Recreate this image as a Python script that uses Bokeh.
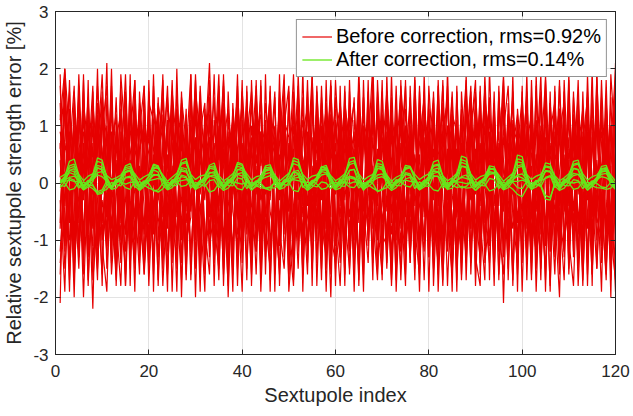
from bokeh.plotting import figure
from bokeh.models import Legend, LegendItem, FixedTicker, LinearAxis
from bokeh.embed import file_html
from bokeh.resources import INLINE

# ---------------- data ----------------
sextupole_index = list(range(1, 121))

x_ticks = [0, 20, 40, 60, 80, 100, 120]
y_ticks = [-3, -2, -1, 0, 1, 2, 3]
y_tick_labels = {-3: "-3", -2: "-2", -1: "-1", 0: "0", 1: "1", 2: "2", 3: "3"}

legend_before = "Before correction, rms=0.92%"
legend_after = "After correction, rms=0.14%"

# relative sextupole strength error [%] before correction (one list per seed)
red_seed_01 = [0.4, -1.1, 1.3, 0.2, -0.6, 1.8, -0.9, 0.7, -1.4, 0.1,
               1.0, -0.3, -1.7, 0.9, 0.5, -0.8, 1.5, -1.2, 0.3, 0.8,
               -0.5, 1.2, -1.0, -0.2, 1.6, 0.6, -1.3, 0.0, 0.9, -0.7,
               1.4, -1.5, 0.2, 0.7, -0.4, 1.1, -2.0, 0.5, 1.3, -0.9,
               -0.1, 0.8, -1.2, 1.7, -0.6, 0.3, 1.0, -0.8, -1.5, 0.6,
               1.2, -0.3, 0.4, -1.1, 1.9, -0.7, 0.1, 0.9, -1.6, 0.5,
               -0.2, 1.3, -0.9, 0.6, -1.4, 1.0, 0.3, -0.5, 1.5, -1.0,
               0.7, -1.8, 0.2, 1.1, -0.6, 0.8, -1.2, 1.6, -0.1, 0.4,
               -1.3, 0.9, 0.5, -0.7, 1.2, -1.5, 0.0, 1.4, -0.8, 0.6,
               -0.4, 1.7, -1.1, 0.3, 0.9, -2.1, 0.7, -0.2, 1.0, -0.9,
               1.3, -0.6, 0.2, -1.4, 1.1, 0.5, -0.3, 1.8, -1.0, 0.4,
               -0.7, 0.8, -1.6, 1.2, 0.1, -0.5, 1.5, -1.2, 0.6, 2.0]
red_seed_02 = [-1.6, 0.7, 0.2, -0.9, 1.4, -0.3, 1.1, -1.5, 0.6, 1.9,
               -0.4, -1.0, 0.8, 1.2, -1.8, 0.3, -0.6, 1.0, 0.5, -1.3,
               1.7, -0.2, -0.8, 0.9, -1.1, 1.3, 0.4, -1.7, 0.6, 1.1,
               -0.5, 0.2, 1.5, -1.2, 0.8, -0.1, -1.4, 1.2, 0.3, -0.7,
               1.6, -1.0, 0.5, -0.3, 1.1, -1.9, 0.9, 0.2, -0.6, 1.4,
               -1.2, 0.7, -0.4, 1.8, -0.9, 0.0, 1.3, -1.5, 0.6, -0.2,
               1.0, -1.3, 0.4, 0.9, -0.7, 1.5, -1.1, 0.3, -1.6, 1.2,
               0.1, -0.5, 1.7, -0.8, 0.6, -1.4, 1.1, 0.2, -1.0, 0.8,
               -0.3, 1.4, -1.7, 0.5, 1.0, -0.6, -1.2, 1.6, 0.3, -0.9,
               0.7, -0.1, 1.2, -1.5, 0.4, 1.9, -0.8, 0.0, -1.3, 1.1,
               -0.6, 0.9, -1.1, 1.5, 0.2, -1.8, 0.7, 1.3, -0.4, -1.0,
               1.2, -0.7, 0.5, -1.4, 1.6, 0.1, -0.9, 0.8, -1.2, 0.3]
red_seed_03 = [1.1, 2.0, -0.5, -1.3, 0.6, 0.9, -1.8, 0.3, 1.4, -0.7,
               0.2, 1.6, -1.0, -0.4, 1.2, -1.5, 0.8, 0.0, -0.9, 1.3,
               -1.4, 0.5, 1.0, -0.6, 0.3, -1.9, 1.5, 0.7, -1.2, 0.1,
               0.9, -0.8, -1.6, 1.1, 0.4, 1.8, -0.3, -1.1, 0.6, 1.4,
               -0.9, 0.2, 1.3, -1.4, 0.7, -0.5, -1.0, 1.6, 0.3, -1.7,
               0.8, 1.2, -0.6, 0.0, -1.3, 1.0, 0.5, -0.8, 1.7, -1.1,
               0.4, -1.6, 0.9, 1.4, -0.2, -1.2, 0.6, 2.1, -0.7, 0.3,
               -1.0, 1.1, -0.4, -1.5, 1.3, 0.2, -0.9, 0.7, 1.5, -1.3,
               0.6, -0.1, -1.8, 1.0, 0.8, -0.6, 1.2, -1.4, 0.4, -0.2,
               1.6, -1.1, 0.5, 0.9, -1.7, 1.3, -0.3, -0.8, 1.1, 0.0,
               -1.2, 1.8, -0.5, 0.6, -1.0, 1.4, 0.3, -1.6, 0.9, -0.4,
               1.0, -1.3, 0.7, 1.5, -0.8, -0.1, 1.2, -1.5, 0.2, 1.7]
red_seed_04 = [-0.3, -1.9, 1.2, 0.5, -1.0, 0.2, 1.5, -0.6, -1.3, 0.9,
               1.7, -0.8, 0.4, -1.4, 1.0, 0.6, -0.2, -1.6, 1.3, 0.1,
               -0.7, 1.4, 0.8, -1.2, -0.4, 1.1, -1.0, 0.5, 1.9, -1.5,
               0.3, 1.0, -0.9, 0.0, -1.7, 0.7, 1.3, -0.5, -1.1, 1.6,
               0.4, -1.3, 0.9, 1.2, -0.7, -1.5, 0.6, 0.2, 1.4, -0.9,
               -1.8, 0.5, 1.1, -0.4, 0.8, -1.0, 1.7, -0.3, -1.2, 0.9,
               1.3, -0.6, -1.5, 0.2, 1.0, -0.8, 0.4, -1.4, 1.6, -0.1,
               -0.9, 1.2, 0.6, -1.7, 0.3, 1.5, -1.1, 0.0, 0.8, -1.3,
               1.1, -0.4, 1.8, -0.7, -1.6, 0.5, 0.9, -1.0, 1.3, 0.2,
               -1.2, 0.6, -0.3, 1.4, -0.9, 0.1, -1.5, 1.0, 0.7, -0.6,
               1.9, -1.3, 0.4, 0.8, -1.1, -0.2, 1.2, -0.8, 1.6, -1.4,
               0.3, 0.9, -1.7, 0.5, 1.1, -0.6, -1.0, 1.4, 0.0, -1.9]
red_seed_05 = [0.9, 0.3, -1.4, 1.6, 0.0, -0.8, 0.5, 1.2, -1.1, -0.3,
               -1.2, 0.8, 1.1, -0.5, -1.6, 1.4, -0.9, 0.6, 1.0, -1.8,
               0.2, -1.3, 0.7, 1.5, -0.2, -0.9, 1.2, -1.4, 0.4, 0.8,
               -1.6, 1.3, -0.6, 0.3, 1.9, -1.0, 0.1, 0.9, -1.5, 0.5,
               1.4, -0.7, -1.2, 0.6, 1.0, -0.3, 1.5, -1.1, 0.8, -0.5,
               0.2, -1.5, 0.9, 1.3, -0.8, 0.4, -1.7, 1.1, 0.0, 0.7,
               -1.1, 1.6, -0.2, -1.3, 0.5, 1.2, -0.9, 0.8, -0.4, 1.8,
               -1.4, 0.3, 1.0, -0.6, -1.2, 0.9, 0.4, -1.9, 1.3, 0.6,
               -0.8, 1.1, -1.3, 0.2, 1.6, -0.5, 0.7, -1.1, 0.0, 1.5,
               -1.6, 0.8, 1.3, -0.7, 0.4, -1.2, 1.0, 0.5, -1.4, 0.9,
               0.1, -0.9, 1.7, -1.5, 0.6, 0.2, -1.0, 1.3, -0.3, 0.8,
               -1.2, 1.4, -0.4, 0.0, -1.6, 1.1, 0.7, -0.8, 1.5, -0.9]
red_seed_06 = [-0.8, 1.5, 0.6, -1.7, 0.3, 1.2, -0.4, -1.1, 1.7, 0.5,
               -0.6, 0.1, -1.3, 1.9, 0.7, -1.0, 0.4, 1.3, -1.6, -0.2,
               1.1, 0.9, -1.5, 0.2, -0.7, 1.6, 0.0, -1.2, 1.0, 0.6,
               -1.4, 0.5, 0.8, -0.3, 1.4, -1.8, 0.6, 1.1, -0.9, -0.4,
               1.3, 0.2, -1.6, 0.9, -0.2, 1.7, -1.3, 0.4, 1.0, -1.1,
               0.6, -0.7, 1.5, -1.2, 0.1, 0.8, -1.0, 1.4, 0.3, -1.5,
               1.2, -0.3, 0.7, -1.9, 0.9, -0.5, 1.6, -0.8, 0.2, 1.1,
               -1.2, 0.0, -0.7, 1.3, 0.5, -1.4, 1.8, -0.2, -1.0, 0.6,
               1.5, -1.1, 0.3, -0.6, 1.2, 0.9, -1.7, 0.4, -0.3, 1.0,
               -0.9, 1.4, 0.1, -1.3, 0.7, -0.4, 1.1, -1.6, 1.3, 0.2,
               -1.4, 0.5, 1.0, -0.8, 1.6, -1.2, 0.0, 0.8, -0.5, 1.9,
               -1.0, 0.3, 1.2, -1.3, 0.6, 0.9, -0.2, -1.7, 1.0, -0.5]
red_seed_07 = [1.7, -0.4, 0.9, 0.0, -1.5, 0.7, -1.2, 1.4, 0.3, -0.9,
               0.5, 1.2, -0.7, -1.8, 0.8, 0.2, 1.6, -1.3, -0.1, 1.0,
               -0.9, 0.4, 1.8, -0.6, 1.0, -1.1, -0.3, 1.3, -1.6, 0.7,
               1.2, -1.2, 0.4, 1.5, -0.8, 0.3, 0.9, -1.4, 1.7, -0.2,
               -0.7, 1.0, 0.1, -1.3, 1.4, 0.6, -0.4, -1.6, 1.1, 0.8,
               -1.3, 0.2, -0.9, 0.6, 1.6, -1.4, 0.7, -0.5, 1.2, 0.1,
               -0.6, 0.9, -1.2, 1.1, 0.4, -1.6, 1.3, 0.0, -1.0, 0.5,
               1.6, -0.7, 0.3, -1.1, 1.0, 0.7, -1.5, 1.2, -0.3, -0.8,
               0.4, -1.6, 1.0, 1.4, -0.2, -1.0, 0.6, 1.8, -1.2, 0.3,
               1.1, -0.5, -1.4, 0.8, 0.2, 1.5, -1.1, 0.6, -0.7, 1.3,
               -0.4, 1.0, -0.8, 0.1, -1.7, 0.9, 1.4, -0.3, 0.5, -1.2,
               1.6, -0.9, 0.2, 1.1, -1.4, 0.4, -0.6, 1.8, -1.1, 0.6]
red_seed_08 = [-1.2, 0.2, -0.7, 1.1, 0.8, -1.6, 1.4, -0.2, 0.6, 1.5,
               -1.5, 0.0, 0.7, -1.0, 1.3, -0.5, -1.2, 0.9, 1.7, -0.6,
               0.4, -1.7, 1.2, 0.3, -0.9, 0.5, 1.4, -1.1, -0.3, 1.9,
               -0.2, 0.7, -1.3, 1.0, 0.2, -1.5, 1.1, 0.4, -0.6, -1.2,
               0.8, 1.6, -0.9, -0.1, -1.1, 1.2, 0.5, -0.7, 1.8, -1.4,
               1.0, 0.3, -1.6, 0.7, -0.2, 1.3, -0.8, 0.6, 1.5, -1.1,
               0.2, -1.0, 1.4, -0.5, -1.3, 0.8, 0.1, 1.6, -0.9, 0.4,
               -1.5, 0.9, -0.3, 0.6, 1.7, -1.2, 0.0, 1.0, -0.6, 1.3,
               -1.0, 0.5, 0.8, -1.8, 0.3, 1.1, -0.4, -1.3, 0.9, 1.6,
               0.2, -1.1, 0.6, 1.0, -1.6, -0.3, 1.2, 0.7, -1.0, 0.4,
               1.5, -0.6, -1.2, 0.9, 0.3, -0.8, 1.7, -1.4, 0.1, 1.1,
               -0.5, 0.7, -1.1, 1.4, -0.2, -1.5, 0.9, 0.4, -0.8, 1.3]
red_seed_09 = [0.1, 1.3, -1.0, -0.6, 1.9, -0.2, 0.4, -2.2, 1.0, 0.6,
               -0.9, 1.4, 0.2, -1.2, -0.3, 1.7, 0.0, -0.8, 1.1, 0.5,
               -1.6, 0.8, -0.1, 1.0, -1.3, 0.4, 0.9, -0.5, 1.6, -1.0,
               0.6, -0.3, 1.2, -1.8, 0.9, 1.4, -0.7, 0.2, -1.3, 1.1,
               -0.5, -1.1, 1.5, 0.3, 0.9, -1.7, 0.2, 1.3, -0.4, 0.7,
               -1.5, 1.1, 0.4, -0.6, -1.0, 1.7, -0.3, 0.8, -1.3, 0.2,
               1.4, 0.5, -1.1, -0.2, 1.2, -0.9, 1.8, -1.3, 0.6, -0.7,
               0.3, 1.0, -1.4, 0.7, -0.5, 1.3, -0.8, -1.6, 1.1, 0.2,
               0.9, -1.2, 0.1, 1.5, -0.9, 0.6, -1.4, 0.3, 1.2, -0.6,
               -1.3, 1.9, -0.2, -0.9, 1.3, 0.4, -0.6, 1.1, -1.5, 0.8,
               0.0, -1.4, 1.1, 0.5, -0.8, 1.6, -1.3, 0.2, 1.0, -0.7,
               0.8, -0.2, 1.3, -1.8, 0.9, -0.4, 1.2, -0.9, 0.3, -1.6]
red_seed_10 = [1.4, -0.9, 0.5, 1.7, -1.2, 0.0, -0.6, 1.0, -0.3, -1.6,
               0.9, -0.2, 1.5, -0.7, 0.4, -1.3, 1.2, 0.6, -1.5, 0.3,
               1.0, -0.6, -1.2, 1.4, 0.7, -0.4, -1.7, 0.9, 0.2, -1.3,
               1.7, 0.1, -0.8, 0.5, -1.1, 1.0, 0.4, -1.6, 1.3, -0.6,
               0.3, 1.4, -0.5, -1.0, 0.7, 1.1, -1.6, 0.5, -0.9, 1.6,
               -0.6, 0.9, -1.3, 0.2, 1.4, -0.4, 1.0, -1.9, 0.7, 1.3,
               -0.8, 0.1, 1.2, -1.4, -0.1, 1.5, -0.6, 0.3, 1.1, -1.2,
               0.9, -1.3, 0.5, 1.6, -0.9, 0.2, 1.1, -0.4, -1.2, 1.7,
               0.3, -0.7, 1.4, -0.3, 0.6, -1.7, 1.2, 0.0, -0.8, 1.3,
               0.5, -1.0, 0.9, -1.2, 1.6, -0.5, 0.3, 1.4, -0.2, -1.1,
               0.7, 1.2, -1.5, 0.0, 1.3, -0.9, 0.6, -0.4, 1.1, -1.6,
               0.4, 1.5, -0.7, 0.8, -1.0, 1.9, -0.5, 0.2, -1.3, 0.8]
red_seed_11 = [-0.5, 0.8, 1.6, -1.4, -0.2, 1.1, 0.3, -0.8, 1.2, -1.0,
               -0.4, 0.9, -1.5, 0.5, 1.6, -0.3, -1.0, 1.4, 0.1, -0.7,
               0.6, 1.3, -0.4, -1.5, 1.2, 0.0, 0.7, -1.0, -0.6, 1.4,
               -1.1, 0.9, 0.3, -0.7, 1.0, -1.3, 1.6, -0.2, 0.5, -1.4,
               1.1, -0.4, -0.8, 1.8, -1.2, 0.3, 0.7, -1.0, 1.2, 0.1,
               -0.9, 1.4, 0.0, -1.1, 0.6, 1.0, -1.5, 0.4, -0.6, 1.8,
               0.2, -1.3, 0.8, 0.5, -1.7, 1.0, -0.1, 1.3, -0.8, -0.4,
               1.2, -0.2, -1.0, 1.7, 0.6, -0.9, 1.4, -1.5, 0.3, 0.9,
               -1.4, 0.7, 1.2, -0.4, -1.1, 1.0, -0.6, 0.5, 1.6, -1.2,
               0.1, 1.0, -0.5, 1.3, -1.2, 0.8, 0.2, -1.7, 0.6, 1.5,
               -0.8, 0.3, -1.3, 1.0, 0.7, -0.6, 1.5, -1.0, 0.4, -0.3,
               1.1, -1.5, 0.9, -0.3, 1.4, -1.0, 0.1, 1.3, -0.7, 0.5]
red_seed_12 = [0.7, -1.5, -0.2, 0.9, -1.3, 1.4, 0.6, -0.1, -1.7, 1.2,
               0.3, -1.1, 1.0, -0.3, -0.9, 0.8, 1.8, -1.4, 0.5, -0.4,
               -1.2, 0.2, 1.5, -0.8, 0.6, 1.0, -1.4, 0.3, -0.5, 1.6,
               0.8, -1.6, 1.1, 0.0, -0.5, 1.3, -1.0, 0.7, 1.5, -1.1,
               -0.3, 0.6, 1.2, -1.6, 0.4, 0.9, -1.1, 1.5, -0.2, -1.0,
               1.6, -1.2, 0.3, 0.8, -0.4, 1.2, -0.7, -1.3, 1.0, 0.4,
               -1.4, 1.2, -0.6, 0.1, 1.7, -1.1, 0.5, -0.3, 1.4, -1.5,
               0.6, 1.1, -0.8, -1.2, 0.9, -0.2, 1.6, -1.0, 0.4, 1.2,
               -0.6, -1.4, 0.9, 0.2, 1.5, -1.2, 0.4, -0.7, 1.1, -1.5,
               1.3, 0.0, -1.0, 0.6, -0.4, 1.7, -1.2, 0.3, 0.8, -1.4,
               1.0, -0.5, 0.5, -1.7, 1.2, 0.2, -0.7, 1.1, -1.3, 0.6,
               -0.1, 1.8, -1.0, 0.6, -0.5, 1.3, -1.4, 0.4, 1.0, -1.1]
red_seed_13 = [1.9, -1.2, 0.6, -2.0, 1.1, 0.3, -0.8, 1.6, -1.5, 0.2,
               -0.6, 2.0, -1.1, 0.7, -1.8, 1.2, 0.4, -0.9, 1.7, -1.4,
               0.5, -0.3, 1.9, -1.6, 0.1, 1.3, -2.0, 0.8, -0.4, 1.5,
               -1.2, 0.6, 2.1, -0.7, -1.5, 1.0, 0.2, -1.9, 1.4, 0.5,
               -1.7, 1.8, -0.2, 0.9, -1.3, 0.4, 1.6, -1.8, 0.7, -0.5,
               1.3, -1.0, 2.0, -1.4, 0.3, -0.8, 1.5, 0.1, -2.0, 1.1,
               -0.4, 1.7, -1.6, 0.6, 1.2, -1.1, -0.3, 1.9, -1.5, 0.8,
               0.0, -1.7, 1.4, -0.6, 1.8, -1.3, 0.5, -0.2, 1.6, -1.9,
               1.0, 0.3, -1.4, 2.0, -0.9, 0.6, -1.6, 1.3, -0.1, -1.2,
               1.7, -0.7, 0.4, -1.8, 1.5, 0.2, -1.0, 1.9, -1.6, 0.7,
               -0.3, 1.2, -1.9, 0.5, 1.8, -1.2, 0.9, -0.5, -1.7, 1.4,
               0.2, -1.4, 1.6, -0.8, 2.0, -1.5, 0.3, 1.1, -2.0, 1.8]
red_seed_14 = [-2.1, 1.6, -0.5, 1.0, -1.3, 1.9, -1.7, 0.4, 0.9, -1.8,
               1.5, -0.2, -1.6, 1.3, 0.0, -1.1, 1.8, -0.7, -1.3, 1.6,
               -1.9, 1.1, -0.6, 0.5, -1.4, 2.0, -0.9, 1.2, -1.7, 0.3,
               1.6, -1.5, -0.4, 1.9, -1.0, 0.6, -1.6, 1.4, -0.1, -1.9,
               1.2, -0.8, 0.3, -1.5, 1.9, -1.2, 0.8, -0.3, 1.5, -1.6,
               0.4, 1.7, -1.9, 0.9, -0.6, 1.4, -1.3, 0.2, 1.8, -0.7,
               -1.8, 0.5, 1.3, -1.0, 2.0, -0.4, -1.4, 1.1, 0.3, -1.7,
               1.9, -0.9, -0.2, 1.5, -1.6, 1.0, -1.1, 1.7, -0.5, 0.4,
               -1.5, 1.8, -0.3, -1.2, 0.8, -1.9, 1.6, 0.1, -1.4, 1.2,
               -0.6, -1.7, 2.0, -0.4, 0.6, -1.3, 1.4, -1.8, 0.9, 0.2,
               1.6, -1.6, 0.3, 1.9, -1.1, 0.7, -0.5, -2.0, 1.3, -0.8,
               1.5, 0.4, -1.8, 0.9, -1.2, 1.7, -0.4, -1.6, 1.9, 0.6]
red_seed_15 = [0.6, 1.9, -1.7, 0.2, 1.5, -1.4, 1.0, -0.6, 2.0, -1.1,
               -1.9, 0.7, 1.2, -0.4, -1.2, 1.9, -1.5, 0.3, -0.8, 1.4,
               1.1, -1.8, 0.4, 1.7, -0.7, -1.3, 1.6, -0.3, 1.1, -2.0,
               0.9, 1.4, -1.1, -0.5, 1.7, -1.6, 0.5, 1.0, -1.8, 0.7,
               -0.2, -1.6, 1.8, -0.8, 0.6, 1.5, -1.9, 1.2, -0.7, 0.3,
               -1.3, 1.9, -0.2, -1.6, 1.2, 0.5, -1.2, 1.8, -0.9, -1.4,
               1.7, -1.2, 0.4, 1.5, -1.8, 0.8, 1.1, -0.6, -1.7, 1.6,
               -0.5, 1.5, -1.9, 0.2, 1.0, -0.6, 1.9, -1.4, 0.7, -1.1,
               1.6, -0.9, 0.5, 1.7, -1.5, 0.0, 1.3, -1.7, 0.9, 1.8,
               -1.4, 0.3, 1.5, -1.1, -0.2, 1.8, -1.7, 0.6, 1.2, -1.9,
               0.8, -1.1, 1.6, -0.4, -1.5, 1.4, -1.2, 1.7, 0.1, -1.0,
               -1.8, 0.6, 1.3, -1.6, 0.8, -0.7, 1.8, -0.3, -1.4, 2.1]
red_seed_16 = [-1.4, -0.4, 1.8, -1.1, 0.5, -2.0, 0.3, 1.7, -1.0, 1.3,
               0.8, -1.6, -0.3, 1.7, -0.9, 0.4, -1.9, 1.6, 0.2, -1.5,
               1.4, 0.6, -1.8, -0.1, 1.8, -0.6, 0.9, -1.6, 1.5, 0.4,
               -1.9, 1.2, 0.7, -1.4, 0.3, 1.7, -1.3, -0.2, 1.9, -1.0,
               0.6, -1.4, 1.3, -1.9, 0.1, 1.6, -0.6, -1.5, 1.0, 1.7,
               -1.7, 0.8, -1.0, 1.6, -1.5, 0.2, 1.4, -0.8, 1.1, -1.8,
               0.9, -1.5, 1.8, -0.7, 0.3, -1.9, 1.5, -0.2, 1.3, -0.9,
               -1.1, 1.9, -0.8, 1.1, -1.3, 0.6, -1.7, 1.4, -0.3, 1.5,
               -1.8, 0.2, 1.7, -1.1, 1.3, -0.4, -1.0, 1.9, -1.6, 0.5,
               1.3, -1.4, -0.5, 1.6, -1.2, 0.9, 1.7, -0.6, -1.4, 1.6,
               -1.3, 1.5, -0.7, -1.2, 1.9, -0.1, -1.6, 0.9, 1.4, -1.5,
               0.9, -1.8, 0.1, 1.6, -1.6, 1.2, -1.1, 0.7, -0.6, 1.5]
red_seed_17 = [1.2, 0.5, -1.9, 1.4, -0.7, 1.6, -1.3, -0.4, 1.1, -0.2,
               2.1, -1.4, 0.9, -0.6, 1.5, -1.8, 1.1, -0.4, -1.6, 1.8,
               -0.8, 1.5, -1.3, 1.1, -1.9, 0.7, 0.3, -1.4, 1.9, -0.8,
               -0.4, -1.9, 1.5, 0.4, -1.4, 1.9, -0.9, 1.3, -0.6, 1.8,
               -1.5, 0.5, 1.7, -1.1, -0.5, 1.3, -1.4, 1.9, -1.3, 0.2,
               1.9, -0.4, -1.2, 1.5, -1.8, 1.6, 0.0, -1.1, 1.7, -0.6,
               -1.3, 1.4, 0.7, -1.6, 1.5, -1.4, 0.8, -1.7, 1.8, 0.0,
               1.3, -1.6, 1.1, -0.2, -1.8, 1.7, -0.4, 0.5, -1.7, 1.0,
               -0.2, 1.7, -1.0, 0.6, -1.9, 1.6, -0.8, -1.0, 1.5, -1.8,
               0.4, 1.6, -1.7, 1.2, -0.8, -1.6, 0.5, 1.5, -1.2, 1.7,
               -1.7, 0.8, -0.3, 1.6, -1.9, 1.1, 0.4, -1.3, 1.8, -0.2,
               -0.9, 1.2, -1.3, 1.9, -0.6, 0.2, -1.9, 1.5, -0.9, -1.7]
red_seed_18 = [-0.7, 2.0, 0.8, -1.6, 1.7, -1.1, 1.8, -1.7, -0.6, 1.6,
               -1.1, 1.7, -1.8, 0.2, 1.9, -0.6, -1.4, 1.2, 0.6, -1.0,
               1.9, -1.0, 0.3, -1.9, 1.5, -1.5, 1.2, -0.7, 0.2, 1.8,
               -1.6, 0.3, 1.8, -1.2, 1.6, -0.2, -1.8, 1.0, 0.6, -1.2,
               1.7, -1.8, 0.6, 1.5, -1.6, 1.0, -1.1, 0.7, 1.9, -1.9,
               -0.7, 1.3, -1.6, 0.4, 1.9, -1.8, 0.6, 1.3, -1.5, 1.5,
               0.6, -1.8, 1.6, -0.3, -1.5, 1.8, -1.0, 1.5, -0.7, -1.6,
               1.6, 0.4, -1.7, 1.8, -1.0, -0.5, 1.3, -1.3, 1.9, -0.8,
               1.4, -1.9, 0.3, 1.0, -1.5, 1.7, -1.2, 0.6, 1.7, -1.3,
               -1.8, 1.5, 0.7, -1.6, 1.7, -1.0, 0.0, 1.6, -1.9, 1.3,
               0.5, -1.7, 1.9, -0.9, 0.8, -1.9, 1.6, -0.6, -1.2, 1.8,
               -1.3, 0.9, -0.5, 1.5, -1.8, 1.9, -0.8, 1.3, -1.7, 0.4]

# relative sextupole strength error [%] after correction (one list per seed)
green_seed_01 = [0.02, 0.12, 0.38, 0.42, 0.14, -0.06, 0.01, 0.15, 0.44, 0.40, 0.10, -0.08,
                 0.03, 0.10, 0.30, 0.34, 0.12, -0.05, 0.00, 0.12, 0.33, 0.30, 0.09, -0.07,
                 0.02, 0.14, 0.40, 0.43, 0.13, -0.06, 0.01, 0.11, 0.31, 0.35, 0.10, -0.09,
                 0.03, 0.12, 0.36, 0.33, 0.11, -0.05, 0.00, 0.10, 0.30, 0.32, 0.12, -0.06,
                 0.02, 0.15, 0.44, 0.41, 0.12, -0.08, 0.01, 0.09, 0.28, 0.31, 0.10, -0.05,
                 0.03, 0.14, 0.43, 0.45, 0.13, -0.07, 0.02, 0.13, 0.41, 0.38, 0.11, -0.06,
                 0.00, 0.10, 0.31, 0.29, 0.09, -0.08, 0.02, 0.12, 0.37, 0.40, 0.12, -0.05,
                 0.01, 0.16, 0.47, 0.44, 0.13, -0.07, 0.03, 0.10, 0.30, 0.28, 0.10, -0.06,
                 0.02, 0.16, 0.49, 0.46, 0.14, -0.08, 0.00, 0.12, 0.35, 0.33, 0.11, -0.05,
                 0.02, 0.13, 0.38, 0.40, 0.12, -0.07, 0.01, 0.10, 0.29, 0.31, 0.10, -0.06]
green_seed_02 = [0.04, 0.08, 0.22, 0.25, 0.07, -0.10, 0.03, 0.09, 0.27, 0.23, 0.06, -0.08,
                 0.05, 0.07, 0.20, 0.22, 0.08, -0.11, 0.02, 0.10, 0.25, 0.27, 0.09, -0.07,
                 0.04, 0.08, 0.21, 0.19, 0.06, -0.09, 0.03, 0.09, 0.26, 0.24, 0.07, -0.10,
                 0.05, 0.07, 0.23, 0.26, 0.08, -0.08, 0.02, 0.11, 0.28, 0.25, 0.06, -0.11,
                 0.04, 0.08, 0.20, 0.22, 0.07, -0.09, 0.03, 0.09, 0.29, 0.27, 0.09, -0.07,
                 0.05, 0.07, 0.22, 0.24, 0.06, -0.10, 0.02, 0.10, 0.26, 0.23, 0.08, -0.08,
                 0.04, 0.08, 0.24, 0.27, 0.07, -0.12, 0.03, 0.09, 0.21, 0.20, 0.06, -0.09,
                 0.05, 0.11, 0.30, 0.28, 0.08, -0.08, 0.02, 0.08, 0.23, 0.25, 0.07, -0.10,
                 0.04, 0.10, 0.27, 0.29, 0.09, -0.07, 0.03, 0.07, 0.20, 0.21, 0.06, -0.11,
                 0.05, 0.09, 0.25, 0.23, 0.08, -0.09, 0.02, 0.08, 0.22, 0.24, 0.07, -0.08]
green_seed_03 = [0.06, 0.00, -0.12, -0.10, 0.02, -0.04, 0.05, -0.03, -0.20, -0.18, -0.02, -0.05,
                 0.07, 0.01, -0.08, -0.11, 0.03, -0.03, 0.04, -0.01, -0.14, -0.12, 0.00, -0.06,
                 0.06, 0.02, -0.06, -0.04, 0.04, -0.04, 0.05, -0.02, -0.16, -0.13, -0.01, -0.05,
                 0.07, 0.00, -0.10, -0.12, 0.02, -0.03, 0.04, -0.01, -0.09, -0.07, 0.01, -0.06,
                 0.06, 0.01, -0.13, -0.15, 0.03, -0.04, 0.05, -0.02, -0.11, -0.09, 0.00, -0.05,
                 0.07, 0.00, -0.07, -0.08, 0.02, -0.03, 0.04, -0.01, -0.15, -0.12, 0.01, -0.06,
                 0.06, 0.02, -0.05, -0.07, 0.03, -0.04, 0.05, -0.03, -0.12, -0.14, -0.01, -0.05,
                 0.07, 0.00, -0.09, -0.06, 0.02, -0.03, 0.04, -0.02, -0.14, -0.11, 0.00, -0.06,
                 0.06, 0.01, -0.08, -0.10, 0.03, -0.04, 0.05, -0.04, -0.22, -0.25, -0.03, -0.05,
                 0.07, 0.00, -0.11, -0.09, 0.02, -0.03, 0.04, -0.01, -0.07, -0.08, 0.01, -0.06]
green_seed_04 = [0.00, 0.10, 0.30, 0.33, 0.11, -0.04, -0.01, 0.13, 0.38, 0.35, 0.10, -0.06,
                 0.01, 0.09, 0.27, 0.29, 0.09, -0.05, 0.00, 0.11, 0.31, 0.28, 0.12, -0.03,
                 -0.01, 0.12, 0.35, 0.38, 0.10, -0.06, 0.01, 0.10, 0.28, 0.30, 0.09, -0.04,
                 0.00, 0.11, 0.33, 0.31, 0.11, -0.05, -0.01, 0.09, 0.26, 0.28, 0.10, -0.03,
                 0.01, 0.13, 0.39, 0.36, 0.12, -0.06, 0.00, 0.10, 0.27, 0.25, 0.09, -0.04,
                 -0.01, 0.12, 0.36, 0.39, 0.11, -0.05, 0.01, 0.11, 0.34, 0.32, 0.10, -0.03,
                 0.00, 0.09, 0.27, 0.29, 0.09, -0.06, -0.01, 0.10, 0.31, 0.33, 0.11, -0.04,
                 0.01, 0.14, 0.41, 0.38, 0.12, -0.05, 0.00, 0.09, 0.26, 0.24, 0.08, -0.03,
                 -0.01, 0.14, 0.42, 0.40, 0.12, -0.06, 0.01, 0.10, 0.30, 0.28, 0.10, -0.04,
                 0.00, 0.12, 0.33, 0.35, 0.11, -0.05, -0.01, 0.09, 0.25, 0.27, 0.09, -0.03]
green_seed_05 = [0.03, 0.05, 0.10, 0.12, 0.04, -0.08, 0.02, 0.06, 0.14, 0.11, 0.03, -0.10,
                 0.04, 0.04, 0.09, 0.10, 0.05, -0.07, 0.01, 0.05, 0.13, 0.15, 0.04, -0.09,
                 0.03, 0.06, 0.11, 0.09, 0.03, -0.08, 0.02, 0.04, 0.12, 0.14, 0.05, -0.11,
                 0.04, 0.05, 0.15, 0.12, 0.04, -0.07, 0.01, 0.06, 0.10, 0.13, 0.03, -0.09,
                 0.03, 0.04, 0.08, 0.10, 0.05, -0.08, 0.02, 0.05, 0.14, 0.16, 0.04, -0.10,
                 0.04, 0.06, 0.12, 0.10, 0.03, -0.07, 0.01, 0.04, 0.09, 0.11, 0.05, -0.09,
                 0.03, 0.05, 0.16, 0.13, 0.04, -0.08, 0.02, 0.06, 0.11, 0.12, 0.03, -0.11,
                 0.04, 0.04, 0.10, 0.08, 0.05, -0.07, 0.01, 0.05, 0.15, 0.17, 0.04, -0.09,
                 0.03, 0.06, 0.12, 0.09, 0.03, -0.08, 0.02, 0.04, 0.08, 0.11, 0.05, -0.10,
                 0.04, 0.05, 0.13, 0.15, 0.04, -0.07, 0.01, 0.06, 0.11, 0.09, 0.03, -0.09]
green_seed_06 = [-0.02, 0.07, 0.18, 0.15, 0.06, -0.12, -0.03, -0.05, -0.15, -0.12, 0.04, -0.10,
                 -0.01, 0.08, 0.20, 0.23, 0.07, -0.13, -0.02, 0.04, 0.06, 0.08, 0.05, -0.11,
                 -0.03, 0.09, 0.24, 0.21, 0.06, -0.12, -0.01, 0.05, 0.12, 0.10, 0.04, -0.10,
                 -0.02, 0.06, 0.16, 0.18, 0.07, -0.13, -0.03, -0.04, -0.10, -0.13, 0.03, -0.11,
                 -0.01, 0.07, 0.19, 0.17, 0.06, -0.12, -0.02, 0.08, 0.22, 0.24, 0.05, -0.10,
                 -0.03, 0.04, 0.09, 0.07, 0.04, -0.13, -0.01, 0.09, 0.25, 0.27, 0.07, -0.11,
                 -0.02, 0.06, 0.15, 0.13, 0.06, -0.12, -0.03, 0.08, 0.21, 0.19, 0.05, -0.10,
                 -0.01, 0.05, 0.11, 0.14, 0.04, -0.13, -0.02, 0.09, 0.26, 0.23, 0.07, -0.11,
                 -0.03, 0.06, 0.14, 0.16, 0.06, -0.12, -0.01, -0.06, -0.28, -0.30, 0.03, -0.10,
                 -0.02, 0.07, 0.17, 0.15, 0.05, -0.13, -0.03, 0.08, 0.20, 0.22, 0.04, -0.11]
green_seed_07 = [0.01, 0.03, 0.05, 0.03, 0.02, -0.05, 0.00, 0.06, 0.18, 0.20, 0.05, -0.07,
                 0.02, 0.02, -0.02, 0.01, 0.01, -0.04, 0.01, 0.05, 0.15, 0.13, 0.04, -0.06,
                 0.00, 0.03, 0.04, 0.06, 0.02, -0.05, 0.02, 0.06, 0.19, 0.17, 0.05, -0.07,
                 0.01, 0.02, 0.00, -0.02, 0.01, -0.04, 0.00, 0.05, 0.16, 0.18, 0.04, -0.06,
                 0.02, 0.03, 0.06, 0.04, 0.02, -0.05, 0.01, 0.06, 0.20, 0.18, 0.05, -0.07,
                 0.00, 0.02, -0.01, 0.02, 0.01, -0.04, 0.02, 0.05, 0.14, 0.16, 0.04, -0.06,
                 0.01, 0.03, 0.05, 0.03, 0.02, -0.05, 0.00, 0.06, 0.17, 0.19, 0.05, -0.07,
                 0.02, 0.02, 0.01, -0.01, 0.01, -0.04, 0.01, 0.05, 0.18, 0.16, 0.04, -0.06,
                 0.00, 0.03, 0.03, 0.05, 0.02, -0.05, 0.02, 0.06, 0.21, 0.19, 0.05, -0.07,
                 0.01, 0.02, 0.00, 0.02, 0.01, -0.04, 0.00, 0.05, 0.15, 0.17, 0.04, -0.06]
green_seed_08 = [-0.08, 0.02, 0.22, 0.20, -0.04, -0.12, -0.07, 0.03, 0.26, 0.24, -0.03, -0.11,
                 -0.09, 0.01, 0.18, 0.21, -0.05, -0.13, -0.06, 0.02, 0.23, 0.19, -0.04, -0.12,
                 -0.08, 0.03, 0.27, 0.25, -0.03, -0.11, -0.07, 0.01, 0.17, 0.20, -0.05, -0.13,
                 -0.09, 0.02, 0.24, 0.22, -0.04, -0.12, -0.06, 0.03, 0.21, 0.23, -0.03, -0.11,
                 -0.08, 0.01, 0.19, 0.17, -0.05, -0.13, -0.07, 0.02, 0.28, 0.26, -0.04, -0.12,
                 -0.09, 0.03, 0.22, 0.24, -0.03, -0.11, -0.06, 0.01, 0.25, 0.27, -0.05, -0.13,
                 -0.08, 0.02, 0.18, 0.16, -0.04, -0.12, -0.07, 0.03, 0.24, 0.26, -0.03, -0.11,
                 -0.09, 0.01, 0.29, 0.27, -0.05, -0.13, -0.06, 0.02, 0.20, 0.18, -0.04, -0.12,
                 -0.08, 0.03, 0.30, 0.32, -0.03, -0.11, -0.07, 0.01, 0.22, 0.20, -0.05, -0.13,
                 -0.09, 0.02, 0.26, 0.24, -0.04, -0.12, -0.06, 0.03, 0.19, 0.21, -0.03, -0.11]
green_seed_09 = [0.10, 0.15, 0.26, 0.29, 0.15, 0.04, 0.12, 0.16, 0.31, 0.28, 0.13, 0.06,
                 0.09, 0.14, 0.24, 0.26, 0.16, 0.05, 0.11, 0.15, 0.28, 0.25, 0.14, 0.03,
                 0.10, 0.17, 0.33, 0.35, 0.15, 0.06, 0.12, 0.14, 0.25, 0.27, 0.13, 0.04,
                 0.09, 0.16, 0.29, 0.27, 0.16, 0.05, 0.11, 0.13, 0.23, 0.25, 0.14, 0.03,
                 0.10, 0.17, 0.34, 0.31, 0.15, 0.06, 0.12, 0.14, 0.24, 0.22, 0.13, 0.04,
                 0.09, 0.16, 0.32, 0.35, 0.16, 0.05, 0.11, 0.15, 0.30, 0.28, 0.14, 0.03,
                 0.10, 0.14, 0.25, 0.27, 0.15, 0.06, 0.12, 0.16, 0.29, 0.31, 0.13, 0.04,
                 0.09, 0.17, 0.36, 0.33, 0.16, 0.05, 0.11, 0.14, 0.26, 0.24, 0.14, 0.03,
                 0.10, 0.17, 0.37, 0.35, 0.15, 0.06, 0.12, 0.15, 0.28, 0.26, 0.13, 0.04,
                 0.09, 0.16, 0.31, 0.33, 0.16, 0.05, 0.11, 0.14, 0.24, 0.26, 0.14, 0.03]
green_seed_10 = [-0.04, -0.06, 0.08, 0.05, -0.09, 0.02, -0.05, -0.10, -0.18, -0.15, -0.11, 0.01,
                 -0.03, -0.05, 0.10, 0.12, -0.08, 0.03, -0.04, -0.09, -0.12, -0.16, -0.10, 0.02,
                 -0.05, -0.04, 0.14, 0.11, -0.09, 0.01, -0.03, -0.06, 0.04, 0.06, -0.08, 0.03,
                 -0.04, -0.05, 0.09, 0.07, -0.10, 0.02, -0.05, -0.08, -0.10, -0.08, -0.09, 0.01,
                 -0.03, -0.04, 0.12, 0.15, -0.08, 0.03, -0.04, -0.07, 0.02, 0.00, -0.10, 0.02,
                 -0.05, -0.06, 0.11, 0.09, -0.09, 0.01, -0.03, -0.09, -0.14, -0.11, -0.08, 0.03,
                 -0.04, -0.05, 0.07, 0.10, -0.10, 0.02, -0.05, -0.06, 0.13, 0.11, -0.09, 0.01,
                 -0.03, -0.08, -0.06, -0.09, -0.08, 0.03, -0.04, -0.05, 0.08, 0.06, -0.10, 0.02,
                 -0.05, -0.11, -0.20, -0.24, -0.09, 0.01, -0.03, -0.06, 0.10, 0.13, -0.08, 0.03,
                 -0.04, -0.05, 0.06, 0.04, -0.10, 0.02, -0.05, -0.08, -0.09, -0.11, -0.09, 0.01]

red_series = [red_seed_01, red_seed_02, red_seed_03, red_seed_04, red_seed_05,
              red_seed_06, red_seed_07, red_seed_08, red_seed_09, red_seed_10,
              red_seed_11, red_seed_12, red_seed_13, red_seed_14, red_seed_15,
              red_seed_16, red_seed_17, red_seed_18]
green_series = [green_seed_01, green_seed_02, green_seed_03, green_seed_04, green_seed_05,
                green_seed_06, green_seed_07, green_seed_08, green_seed_09, green_seed_10]

for s in red_series + green_series:
    assert len(s) == len(sextupole_index), len(s)

# ---------------- style ----------------
FONT = "Liberation Sans"
AXIS_COLOR = "#262626"
RED = "#e60000"
GREEN = "#66e61a"

p = figure(width=633, height=416, x_range=(0, 120), y_range=(-3, 3),
           output_backend="svg", toolbar_location=None,
           min_border_left=55, min_border_right=18, min_border_top=11, min_border_bottom=62)

p.background_fill_color = "white"
p.border_fill_color = "white"
p.outline_line_color = AXIS_COLOR
p.outline_line_width = 1

red_renderers = []
for ys in red_series:
    r = p.line(sextupole_index, ys, line_color=RED, line_width=1.2)
    red_renderers.append(r)
green_renderers = []
for ys in green_series:
    r = p.line(sextupole_index, ys, line_color=GREEN, line_width=1.3)
    green_renderers.append(r)

# axes
p.xaxis.ticker = FixedTicker(ticks=x_ticks)
p.yaxis.ticker = FixedTicker(ticks=y_ticks)
p.yaxis.major_label_overrides = y_tick_labels
p.xaxis.axis_label = "Sextupole index"
p.yaxis.axis_label = "Relative sextupole strength error [%]"

for ax in (p.xaxis[0], p.yaxis[0]):
    ax.axis_line_color = AXIS_COLOR
    ax.major_tick_line_color = AXIS_COLOR
    ax.major_tick_in = 5
    ax.major_tick_out = 0
    ax.minor_tick_in = 0
    ax.minor_tick_out = 0
    ax.major_label_text_font = FONT
    ax.major_label_text_font_size = "17px"
    ax.major_label_text_color = AXIS_COLOR
    ax.axis_label_text_font = FONT
    ax.axis_label_text_font_size = "20px"
    ax.axis_label_text_font_style = "normal"
    ax.axis_label_text_color = AXIS_COLOR

p.xaxis.major_label_standoff = 10
p.xaxis.axis_label_standoff = 4
p.yaxis.major_label_standoff = 7
p.yaxis.axis_label_standoff = 5

# box ticks on the top and right sides (no labels), as in the reference
top_axis = LinearAxis(ticker=FixedTicker(ticks=x_ticks),
                      major_label_overrides={t: "" for t in x_ticks},
                      major_tick_in=5, major_tick_out=0, minor_tick_in=0, minor_tick_out=0,
                      axis_line_color=AXIS_COLOR, major_tick_line_color=AXIS_COLOR,
                      major_label_standoff=0)
right_axis = LinearAxis(ticker=FixedTicker(ticks=y_ticks),
                        major_label_overrides={t: "" for t in y_ticks},
                        major_tick_in=5, major_tick_out=0, minor_tick_in=0, minor_tick_out=0,
                        axis_line_color=AXIS_COLOR, major_tick_line_color=AXIS_COLOR,
                        major_label_standoff=0)
p.add_layout(top_axis, "above")
p.add_layout(right_axis, "right")

p.grid.grid_line_color = "#e3e3e3"
p.grid.grid_line_width = 1

legend = Legend(items=[LegendItem(label=legend_before, renderers=[red_renderers[0]]),
                       LegendItem(label=legend_after, renderers=[green_renderers[0]])],
                location="top_right")
legend.margin = 8
legend.padding = 5
legend.spacing = 0
legend.glyph_width = 30
legend.glyph_height = 21
legend.label_height = 21
legend.label_standoff = 4
legend.label_text_font = FONT
legend.label_text_font_size = "20px"
legend.label_text_color = "black"
legend.border_line_color = AXIS_COLOR
legend.border_line_width = 1
legend.background_fill_color = "white"
legend.background_fill_alpha = 1.0
p.add_layout(legend)

open("out.html", "w").write(file_html(p, INLINE))
